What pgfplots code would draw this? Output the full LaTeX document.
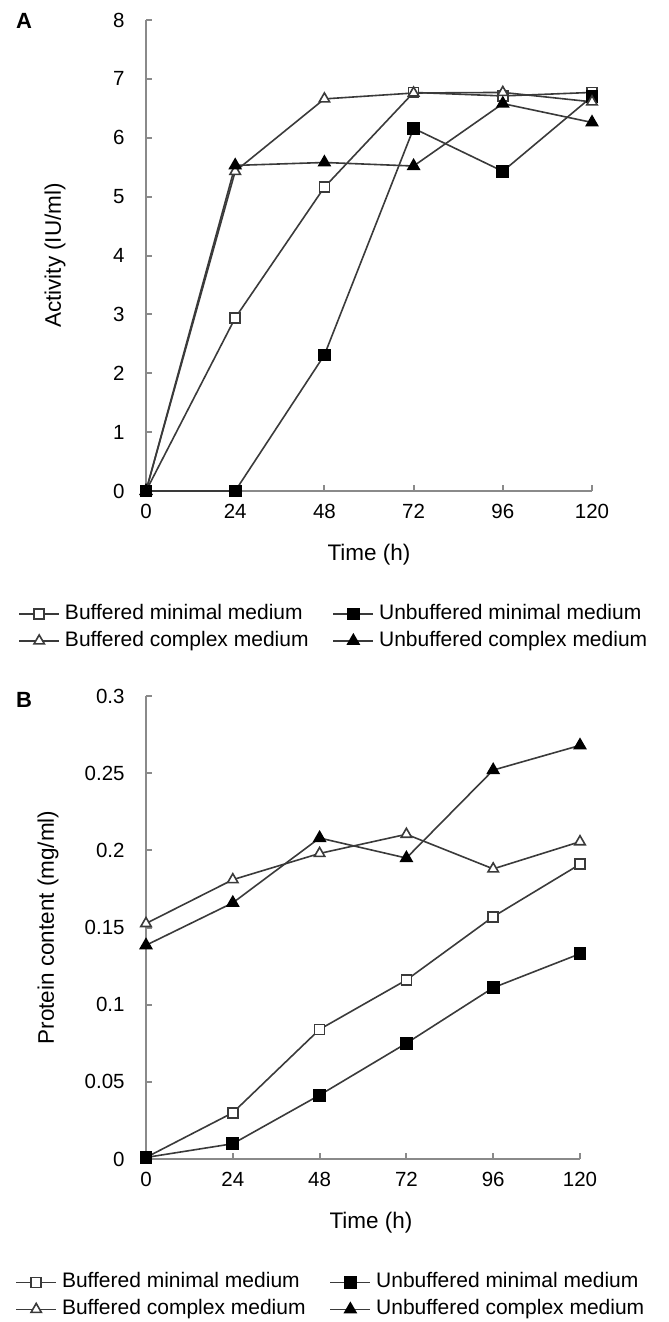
\documentclass[border=0pt]{standalone}
\usepackage{fontspec}
\setmainfont{Liberation Sans}
\usepackage{pgfplots}
\pgfplotsset{compat=1.18}
\definecolor{axgray}{HTML}{8A8A8A}
\definecolor{lngray}{HTML}{3A3A3A}
\pgfplotsset{
  mystyle/.style={
    scale only axis, clip=false,
    axis x line*=bottom, axis y line*=left,
    axis line style={-, draw=axgray, line width=1pt},
    tick style={draw=axgray, line width=1pt},
    tick align=inside, major tick length=3pt,
    xmin=0, xmax=120, xtick={0,24,48,72,96,120},
    /pgf/number format/assume math mode=true,
    tick label style={font=\fontsize{10.25}{12}\selectfont, inner sep=0pt},
    xticklabel style={yshift=-6.5pt},
    yticklabel style={xshift=-10.5pt},
    label style={font=\fontsize{11.25}{13}\selectfont},
    legend columns=2, legend cell align=left,
    legend style={draw=none, fill=none, inner sep=0pt, anchor=north west,
      font=\fontsize{10.5}{12}\selectfont,
      nodes={inner sep=0pt, text height=8pt, text depth=2.5pt},
      row sep=3pt,
      /tikz/every odd column/.append style={column sep=2.5pt},
      /tikz/every even column/.append style={column sep=12pt}},
    legend image code/.code={\draw[mark repeat=2, mark phase=2] plot coordinates {(0pt,0pt) (10pt,0pt) (20pt,0pt)};},
  },
  bm/.style={draw=lngray, line width=0.8pt, mark=square*, mark size=2.5pt, mark options={fill=white, draw=lngray, line width=0.8pt, solid}},
  um/.style={draw=lngray, line width=0.8pt, mark=square*, mark size=2.8pt, mark options={fill=black, draw=black, solid}},
  bc/.style={draw=lngray, line width=0.8pt, mark=triangle*, mark size=3pt, mark options={fill=white, draw=lngray, line width=0.8pt, solid}},
  uc/.style={draw=lngray, line width=0.8pt, mark=triangle*, mark size=3.2pt, mark options={fill=black, draw=black, solid}},
}
\begin{document}
\begin{tikzpicture}
\path (0,0) rectangle (334.5pt,-661pt);
\node[font=\bfseries\fontsize{11}{13}\selectfont] at (12pt,-10.5pt) {A};
\node[font=\bfseries\fontsize{11}{13}\selectfont] at (12pt,-350pt) {B};
\begin{axis}[mystyle,
  at={(73pt,-245.5pt)}, anchor=south west,
  width=223pt, height=235.5pt,
  ymin=0, ymax=8, ytick={0,1,2,3,4,5,6,7,8},
  xlabel={Time (h)}, ylabel={Activity (IU/ml)},
  xlabel style={at={(axis description cs:0.5,-0.1359)}, anchor=center},
  ylabel style={at={(axis description cs:-0.204,0.5)}, anchor=center},
  legend style={at={(axis description cs:-0.287,-0.2378)}},
]
\addplot[bm] coordinates {(0,0) (24,2.94) (48,5.16) (72,6.77) (96,6.71) (120,6.77)};
\addlegendentry{Buffered minimal medium}
\addplot[um] coordinates {(0,0) (24,0) (48,2.31) (72,6.16) (96,5.43) (120,6.70)};
\addlegendentry{Unbuffered minimal medium}
\addplot[bc] coordinates {(0,0) (24,5.43) (48,6.66) (72,6.76) (96,6.77) (120,6.61)};
\addlegendentry{Buffered complex medium}
\addplot[uc] coordinates {(0,0) (24,5.53) (48,5.58) (72,5.52) (96,6.58) (120,6.26)};
\addlegendentry{Unbuffered complex medium}
\end{axis}
\begin{axis}[mystyle,
  at={(73pt,-579.5pt)}, anchor=south west,
  width=217pt, height=231.5pt,
  ymin=0, ymax=0.3, ytick={0,0.05,0.1,0.15,0.2,0.25,0.3},
  yticklabels={0,0.05,0.1,0.15,0.2,0.25,0.3},
  xlabel={Time (h)}, ylabel={Protein content (mg/ml)},
  xlabel style={at={(axis description cs:0.5,-0.1382)}, anchor=center, xshift=4pt},
  ylabel style={at={(axis description cs:-0.2258,0.5)}, anchor=center},
  legend style={at={(axis description cs:-0.3018,-0.243)}},
]
\addplot[bm] coordinates {(0,0.001) (24,0.030) (48,0.084) (72,0.116) (96,0.157) (120,0.191)};
\addlegendentry{Buffered minimal medium}
\addplot[um] coordinates {(0,0.001) (24,0.0099) (48,0.0414) (72,0.075) (96,0.111) (120,0.133)};
\addlegendentry{Unbuffered minimal medium}
\addplot[bc] coordinates {(0,0.1526) (24,0.181) (48,0.198) (72,0.2104) (96,0.188) (120,0.2056)};
\addlegendentry{Buffered complex medium}
\addplot[uc] coordinates {(0,0.1385) (24,0.166) (48,0.208) (72,0.195) (96,0.252) (120,0.268)};
\addlegendentry{Unbuffered complex medium}
\end{axis}
\end{tikzpicture}
\end{document}
